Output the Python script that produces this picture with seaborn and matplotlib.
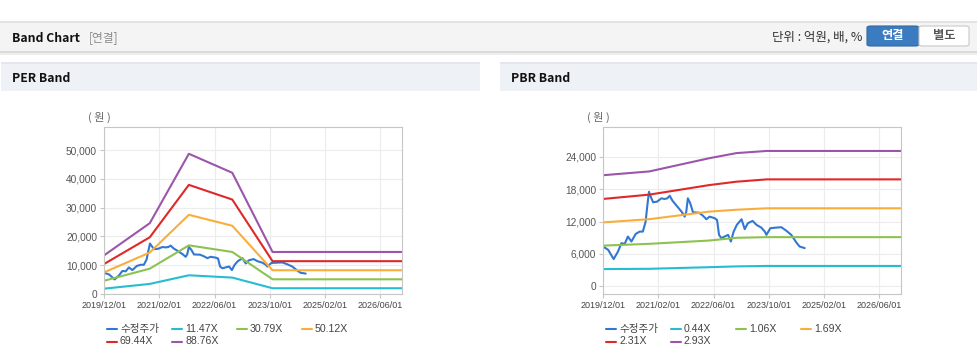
import matplotlib
matplotlib.use("Agg")
import matplotlib.pyplot as plt
from matplotlib.lines import Line2D
from matplotlib.patches import Rectangle, FancyBboxPatch
import pandas as pd
import seaborn as sns

sns.set_theme(style="white")
plt.rcParams['font.family'] = ['Liberation Sans', 'Noto Sans CJK KR']
KR = ['Noto Sans CJK KR', 'Liberation Sans']

# %% data
tick_labels = ['2019/12/01', '2021/02/01', '2022/06/01', '2023/10/01', '2025/02/01', '2026/06/01']
tick_months = [0, 14, 28, 42, 56, 70]   # months since 2019/12

price_name = '수정주가'
per_names = ['11.47X', '30.79X', '50.12X', '69.44X', '88.76X']
pbr_names = ['0.44X', '1.06X', '1.69X', '2.31X', '2.93X']
colors = ['#3278d2', '#27bcd0', '#8cc350', '#f9ae3c', '#e02828', '#9b55aa']

# adjusted price (shared by both charts)
price_t = [0, 1.3, 2.7, 3.8, 4.65, 5.5, 6.3, 7.2, 8.3, 9.3, 10.1, 10.8, 11.2, 11.65,
           12.1, 12.7, 13.7, 14.8, 15.6, 16.3, 16.9, 17.6, 18.7, 19.9, 20.7, 21.1,
           21.5, 22.1, 22.8, 24.3, 25.3, 26.2, 27.0, 28.3, 28.9, 29.4, 30.0, 30.8,
           31.7, 32.4, 33.1, 33.9, 35.1, 35.9, 36.7, 37.9, 38.9, 40.1, 41.0, 41.4,
           42.4, 43.9, 45.2, 46.5, 47.7, 49.0, 49.8, 51.1]
price = [7385, 6775, 5050, 6460, 8000, 7880, 9230, 8310, 9730, 10150, 10150, 12000,
         14770, 17540, 16610, 15580, 15700, 16320, 16190, 16320, 16800, 15880, 14900,
         13850, 12920, 13850, 16320, 15400, 13730, 13660, 13110, 12440, 12920, 12630,
         12310, 9540, 8930, 9230, 9540, 8310, 10150, 11390, 12440, 10600, 11700, 12130,
         11390, 10890, 10150, 9540, 10780, 10890, 10960, 10280, 9540, 8120, 7385, 7090]

# PER band lines
per_t = [0, 11.6, 21.5, 32.5, 42.7, 75.5]
per_1147 = [1850, 3500, 6500, 5700, 2000, 2000]
per_3079 = [4600, 8800, 16900, 14600, 5100, 5100]
per_5012 = [7500, 14400, 27500, 23700, 8250, 8250]
per_6944 = [10400, 19700, 37900, 32800, 11400, 11400]
per_8876 = [13400, 24600, 48700, 42100, 14600, 14600]

# PBR band lines
pbr_t = [0, 11.7, 26.9, 33.8, 41.5, 75.5]
pbr_044 = [3200, 3250, 3550, 3700, 3780, 3780]
pbr_106 = [7550, 7880, 8490, 9000, 9120, 9120]
pbr_169 = [11850, 12450, 13850, 14200, 14470, 14470]
pbr_231 = [16200, 17000, 18770, 19400, 19830, 19830]
pbr_293 = [20600, 21300, 23750, 24700, 25100, 25100]

per_yticks = [0, 10000, 20000, 30000, 40000, 50000]
pbr_yticks = [0, 6000, 12000, 18000, 24000]


def long_df(band_t, bands, names):
    frames = [pd.DataFrame({'t': price_t, 'v': price, 's': price_name})]
    for name, vals in zip(names, bands):
        frames.append(pd.DataFrame({'t': band_t, 'v': vals, 's': name}))
    return pd.concat(frames, ignore_index=True)


per_df = long_df(per_t, [per_1147, per_3079, per_5012, per_6944, per_8876], per_names)
pbr_df = long_df(pbr_t, [pbr_044, pbr_106, pbr_169, pbr_231, pbr_293], pbr_names)

# %% figure
W, H = 978, 361
fig = plt.figure(figsize=(W / 100, H / 100), dpi=100)
fig.patch.set_facecolor('white')


def fx(x):
    return x / W


def fy(y):
    return 1 - y / H


def box(x0, y0, x1, y1, color, **kw):
    fig.add_artist(Rectangle((fx(x0), fy(y1)), fx(x1) - fx(x0), fy(y0) - fy(y1),
                             transform=fig.transFigure, facecolor=color,
                             edgecolor='none', **kw))


# top header bar
box(0, 21, W, 52, '#f4f4f4')
box(0, 21, W, 23, '#e3e3e3')
box(0, 51, W, 53, '#dadada')
box(0, 53, W, 55, '#eeeeee')
fig.text(fx(12), fy(38), 'Band Chart', fontsize=8.8, fontweight='bold', color='#111',
         family=KR, va='center')
fig.text(fx(89), fy(38), '[연결]', fontsize=8.5, color='#8a8a8a', family=KR, va='center')
fig.text(fx(862), fy(37), '단위 : 억원, 배, %', fontsize=9, color='#333', family=KR,
         va='center', ha='right')
fig.add_artist(FancyBboxPatch((fx(867), fy(46)), fx(919) - fx(867), fy(26) - fy(46),
                              boxstyle='round,pad=0,rounding_size=0.004',
                              transform=fig.transFigure, facecolor='#3b7cc0',
                              edgecolor='#33689f', linewidth=0.8))
fig.add_artist(FancyBboxPatch((fx(919), fy(46)), fx(969) - fx(919), fy(26) - fy(46),
                              boxstyle='round,pad=0,rounding_size=0.004',
                              transform=fig.transFigure, facecolor='white',
                              edgecolor='#c8c8c8', linewidth=0.8))
fig.text(fx(893), fy(36), '연결', fontsize=8.8, fontweight='bold', color='white',
         family=KR, ha='center', va='center')
fig.text(fx(944), fy(36), '별도', fontsize=8.8, fontweight='bold', color='#555',
         family=KR, ha='center', va='center')

# section headers
for x0, x1, title in [(1, 480, 'PER Band'), (500, W, 'PBR Band')]:
    box(x0, 62, x1, 91, '#eef1f6')
    box(x0, 62, x1, 64, '#e3e7ed')
    fig.text(fx(x0 + 11), fy(78), title, fontsize=8.8, fontweight='bold', color='#111',
             family=KR, va='center')


def draw_chart(left, df, names, ylim, yticks):
    ax = fig.add_axes([fx(left), fy(294), fx(298), 167 / H])
    palette = dict(zip([price_name] + names, colors))
    sns.lineplot(data=df, x='t', y='v', hue='s', palette=palette, sort=False,
                 estimator=None, legend=False, linewidth=1.5, ax=ax)
    ax.set_xlim(0, 75.5)
    ax.set_ylim(*ylim)
    ax.set_xticks(tick_months)
    ax.set_xticklabels(tick_labels, fontsize=6.5, color='#444')
    ax.set_yticks(yticks)
    ax.set_yticklabels([f'{v:,}' for v in yticks], fontsize=7.3, color='#555')
    ax.set_xlabel('')
    ax.set_ylabel('')
    ax.grid(True, color='#ececec', linewidth=0.8)
    ax.set_axisbelow(True)
    for sp in ax.spines.values():
        sp.set_color('#c6c6c6')
        sp.set_linewidth(0.8)
    ax.tick_params(axis='both', length=3, width=0.8, color='#c6c6c6', pad=2,
                   left=True, bottom=True)
    fig.text(fx(left - 5), fy(117), '( 원 )', fontsize=8, color='#666', family=KR,
             ha='center', va='center')

    # legend, four entries per row
    for i, (name, c) in enumerate(zip([price_name] + names, colors)):
        x0 = left + 3 + (i % 4) * 65
        y0 = 329 + (i // 4) * 12.5
        fig.add_artist(Line2D([fx(x0), fx(x0 + 10)], [fy(y0), fy(y0)],
                              transform=fig.transFigure, color=c, linewidth=1.5))
        fig.text(fx(x0 + 13), fy(y0), name, fontsize=7.6, color='#444',
                 va='center', family=KR if name == price_name else None)
    return ax


draw_chart(104, per_df, per_names, (0, 58000), per_yticks)
draw_chart(603, pbr_df, pbr_names, (-1420, 29540), pbr_yticks)

fig.savefig('out.png', dpi=100)
